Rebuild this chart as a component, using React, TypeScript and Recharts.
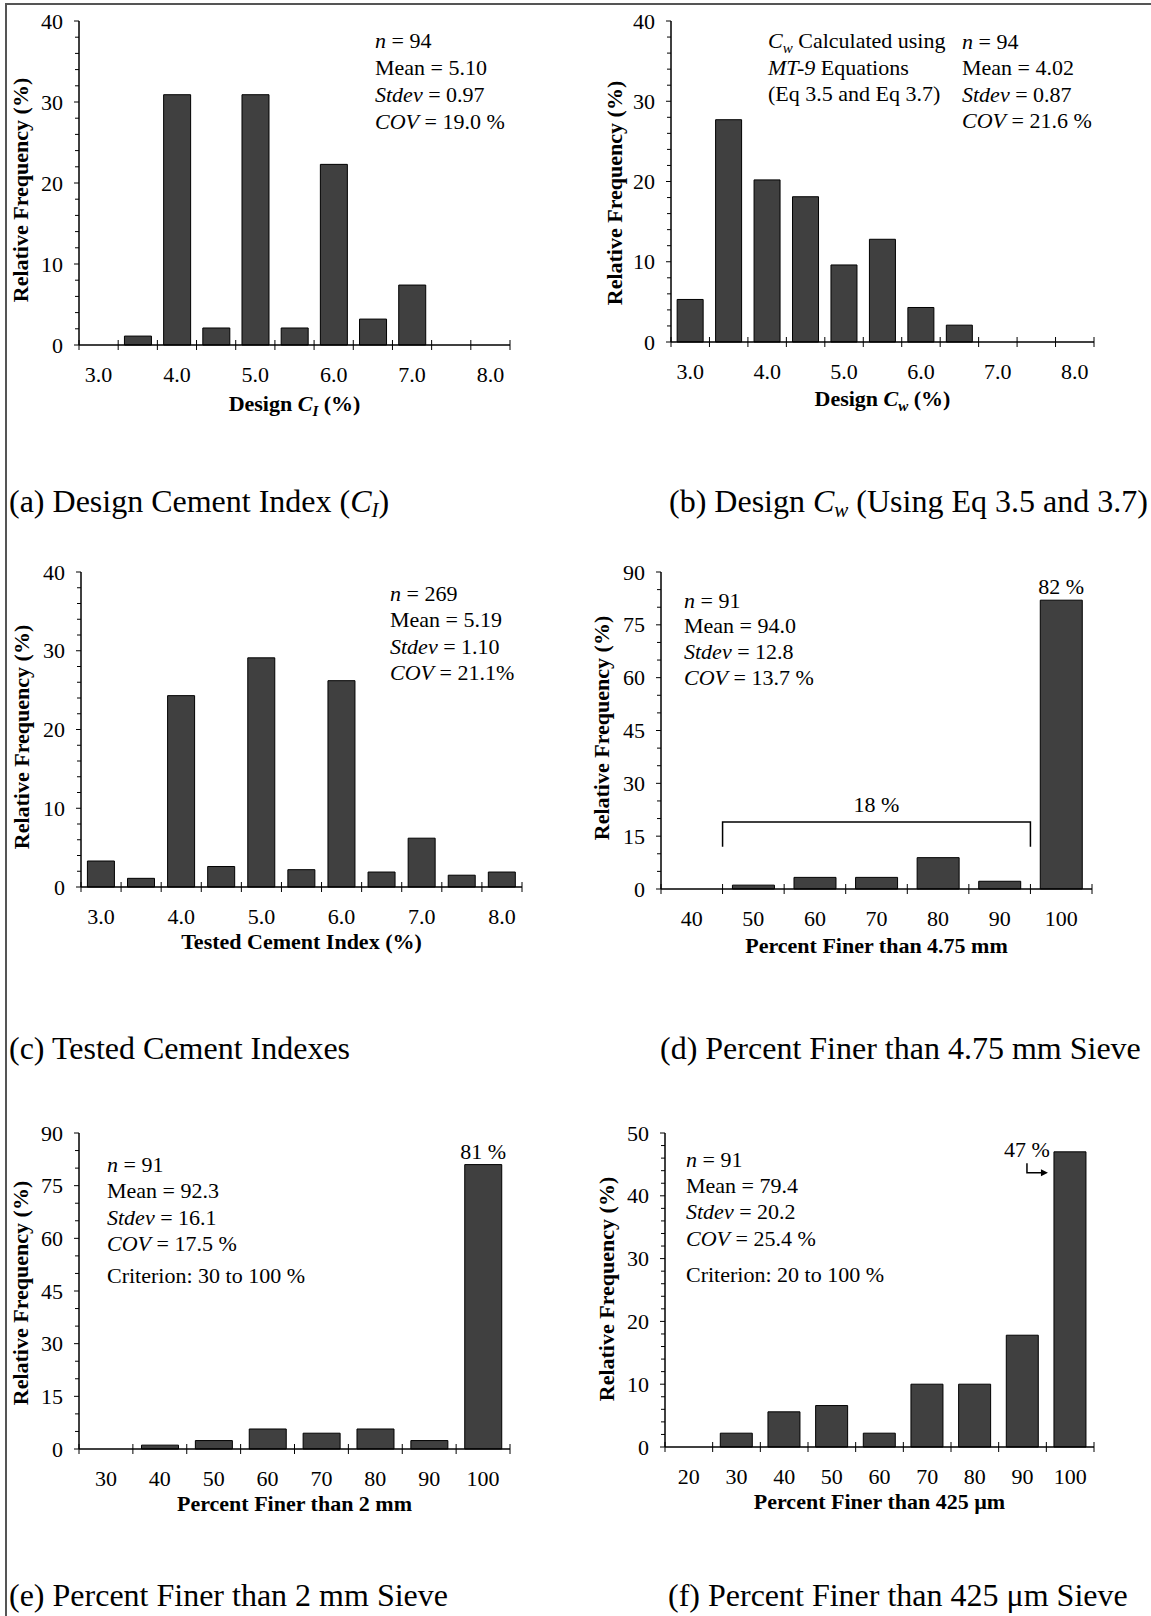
import React from "react";
import { Bar, BarChart, LabelList, ReferenceArea, XAxis, YAxis } from "recharts";

const SERIF = '"Liberation Serif", "Times New Roman", serif';
const BAR_FILL = "#404040";
const FRAME = "#8c8c8c";

// cement content bins (%), shared by the first three histograms
const cementBins = ["3.0", "3.5", "4.0", "4.5", "5.0", "5.5", "6.0", "6.5", "7.0", "7.5", "8.0"];
const cementTickLabels = ["3.0", "4.0", "5.0", "6.0", "7.0", "8.0"];
const designCiFreq = [0, 1.1, 30.9, 2.1, 30.9, 2.1, 22.3, 3.2, 7.4, 0, 0];
const designCwFreq = [5.3, 27.7, 20.2, 18.1, 9.6, 12.8, 4.3, 2.1, 0, 0, 0];
const testedCiFreq = [3.3, 1.1, 24.3, 2.6, 29.1, 2.2, 26.2, 1.9, 6.2, 1.5, 1.9];

// gradation bins (percent finer)
const finer475Bins = ["40", "50", "60", "70", "80", "90", "100"];
const finer475Freq = [0, 1.1, 3.3, 3.3, 8.9, 2.2, 82];
const finer2Bins = ["30", "40", "50", "60", "70", "80", "90", "100"];
const finer2Freq = [0, 1.1, 2.4, 5.7, 4.5, 5.7, 2.4, 81];
const finer425Bins = ["20", "30", "40", "50", "60", "70", "80", "90", "100"];
const finer425Freq = [0, 2.2, 5.6, 6.6, 2.2, 10.0, 10.0, 17.8, 47];

// summary statistics: n, mean, stdev, COV
const designCiStats = ["94", "5.10", "0.97", "19.0 %"];
const designCwStats = ["94", "4.02", "0.87", "21.6 %"];
const testedCiStats = ["269", "5.19", "1.10", "21.1%"];
const finer475Stats = ["91", "94.0", "12.8", "13.7 %"];
const finer2Stats = ["91", "92.3", "16.1", "17.5 %"];
const finer425Stats = ["91", "79.4", "20.2", "25.4 %"];

// bracket around the bins below 100 % passing (frequency units)
const bracketLow = 12;
const bracketHigh = 19;

type Rect = { x0: number; y0: number; x1: number; y1: number };

const rectA: Rect = { x0: 79, y0: 21, x1: 510, y1: 345 };
const rectB: Rect = { x0: 671, y0: 21, x1: 1094, y1: 342 };
const rectC: Rect = { x0: 81, y0: 572, x1: 522, y1: 887 };
const rectD: Rect = { x0: 661, y0: 572, x1: 1092, y1: 889 };
const rectE: Rect = { x0: 79, y0: 1133, x1: 510, y1: 1449 };
const rectF: Rect = { x0: 665, y0: 1133, x1: 1094, y1: 1447 };

const PAD_TOP = 20;

const tickValues = (max: number, step: number) =>
  Array.from({ length: Math.round(max / step) + 1 }, (_, i) => i * step);

function BinTick(props: any) {
  const { x, y, payload, index, step, shown, lastIndex } = props;
  const edge = x - step / 2;
  return (
    <g>
      <line x1={edge} x2={edge} y1={y - 5} y2={y + 5} stroke="#000" strokeWidth={1} />
      {index === lastIndex && (
        <line x1={x + step / 2} x2={x + step / 2} y1={y - 5} y2={y + 5} stroke="#000" strokeWidth={1} />
      )}
      {shown.includes(payload.value) && (
        <text x={x} y={y + 37} textAnchor="middle" fontFamily={SERIF} fontSize={22} fill="#000">
          {payload.value}
        </text>
      )}
    </g>
  );
}

function FreqTick(props: any) {
  const { x, y, payload, major } = props;
  const isMajor = payload.value % major === 0;
  return (
    <g>
      <line x1={x - (isMajor ? 5 : 4)} x2={x} y1={y} y2={y} stroke="#000" strokeWidth={1} />
      {isMajor && (
        <text x={x - 16} y={y + 7.5} textAnchor="end" fontFamily={SERIF} fontSize={22} fill="#000">
          {payload.value}
        </text>
      )}
    </g>
  );
}

function TopTag(props: any) {
  if (props.value == null) return null;
  const vb = props.viewBox ?? props;
  return (
    <text x={vb.x + vb.width / 2} y={vb.y - 6} textAnchor="middle" fontFamily={SERIF} fontSize={22} fill="#000">
      {props.value}
    </text>
  );
}

function ArrowTag(props: any) {
  if (props.value == null) return null;
  const vb = props.viewBox ?? props;
  const { x, y } = vb;
  const lx = x - 27;
  return (
    <g>
      <text x={lx} y={y + 5} textAnchor="middle" fontFamily={SERIF} fontSize={22} fill="#000">
        {props.value}
      </text>
      <polyline
        points={`${lx},${y + 11.5} ${lx},${y + 21} ${x - 12},${y + 21}`}
        fill="none"
        stroke="#000"
        strokeWidth={1.5}
      />
      <polygon points={`${x - 6},${y + 21} ${x - 13},${y + 17.5} ${x - 13},${y + 24.5}`} fill="#000" />
    </g>
  );
}

function Bracket(props: any) {
  const { x, y, width, height, label } = props;
  return (
    <g>
      <path
        d={`M${x},${y + height} V${y} H${x + width} V${y + height}`}
        fill="none"
        stroke="#000"
        strokeWidth={1.5}
      />
      <text x={x + width / 2} y={y - 10} textAnchor="middle" fontFamily={SERIF} fontSize={22} fill="#000">
        {label}
      </text>
    </g>
  );
}

type HistProps = {
  bins: string[];
  freq: number[];
  shown: string[];
  yMax: number;
  major: number;
  minor: number;
  rect: Rect;
  tagged?: string[];
  tag?: (p: any) => React.ReactElement | null;
  children?: React.ReactNode;
};

function Histogram({ bins, freq, shown, yMax, major, minor, rect, tagged = [], tag, children }: HistProps) {
  const data = bins.map((bin, i) => ({
    bin,
    freq: freq[i],
    tag: tagged.includes(bin) ? `${freq[i]} %` : undefined,
  }));
  const plotW = rect.x1 - rect.x0;
  const plotH = rect.y1 - rect.y0;
  const step = plotW / bins.length;
  return (
    <div style={{ position: "absolute", left: rect.x0 - 60, top: rect.y0 - PAD_TOP }}>
      <BarChart
        width={plotW + 70}
        height={plotH + PAD_TOP + 60}
        data={data}
        margin={{ top: PAD_TOP, right: 10, bottom: 0, left: 0 }}
        barCategoryGap="16%"
      >
        <XAxis
          dataKey="bin"
          height={60}
          interval={0}
          tickSize={0}
          tickMargin={0}
          tickLine={false}
          axisLine={{ stroke: "#000", strokeWidth: 1.5 }}
          tick={(p: any) => <BinTick {...p} step={step} shown={shown} lastIndex={bins.length - 1} />}
        />
        <XAxis
          xAxisId="frame"
          orientation="top"
          dataKey="bin"
          height={0}
          tick={false}
          tickLine={false}
          axisLine={{ stroke: FRAME, strokeWidth: 1.2 }}
        />
        <YAxis
          type="number"
          width={60}
          domain={[0, yMax]}
          ticks={tickValues(yMax, minor)}
          interval={0}
          tickSize={0}
          tickMargin={0}
          tickLine={false}
          axisLine={{ stroke: "#000", strokeWidth: 1.5 }}
          tick={(p: any) => <FreqTick {...p} major={major} />}
        />
        <YAxis
          yAxisId="frame"
          orientation="right"
          type="number"
          width={0}
          domain={[0, yMax]}
          tick={false}
          tickLine={false}
          axisLine={{ stroke: FRAME, strokeWidth: 1.2 }}
        />
        <Bar dataKey="freq" fill={BAR_FILL} stroke="#000" strokeWidth={1} isAnimationActive={false}>
          {tagged.length > 0 && <LabelList dataKey="tag" content={tag ?? TopTag} />}
        </Bar>
        {children}
      </BarChart>
    </div>
  );
}

const statNames = [
  { name: "n", italic: true },
  { name: "Mean", italic: false },
  { name: "Stdev", italic: true },
  { name: "COV", italic: true },
];

function StatBlock({
  x,
  y,
  step,
  values,
  criterion,
  criterionY,
}: {
  x: number;
  y: number;
  step: number;
  values: string[];
  criterion?: string;
  criterionY?: number;
}) {
  return (
    <g fontFamily={SERIF} fontSize={22} fill="#000">
      {values.map((v, i) => (
        <text key={i} x={x} y={y + i * step}>
          <tspan fontStyle={statNames[i].italic ? "italic" : "normal"}>{statNames[i].name}</tspan>
          {" = " + v}
        </text>
      ))}
      {criterion && (
        <text x={x} y={criterionY}>
          {"Criterion: " + criterion}
        </text>
      )}
    </g>
  );
}

function YTitle({ x, y }: { x: number; y: number }) {
  return (
    <text
      x={x}
      y={y}
      transform={`rotate(-90, ${x}, ${y})`}
      textAnchor="middle"
      fontFamily={SERIF}
      fontSize={22}
      fontWeight="bold"
      fill="#000"
    >
      Relative Frequency (%)
    </text>
  );
}

function XTitle({ rect, y, children }: { rect: Rect; y: number; children: React.ReactNode }) {
  return (
    <text
      x={(rect.x0 + rect.x1) / 2}
      y={y}
      textAnchor="middle"
      fontFamily={SERIF}
      fontSize={22}
      fontWeight="bold"
      fill="#000"
    >
      {children}
    </text>
  );
}

function Caption({ x, y, children }: { x: number; y: number; children: React.ReactNode }) {
  return (
    <text x={x} y={y} fontFamily={SERIF} fontSize={32} fill="#000">
      {children}
    </text>
  );
}

export default function App() {
  const last475 = finer475Freq[finer475Freq.length - 1];
  return (
    <div
      style={{
        position: "absolute",
        left: 0,
        top: 0,
        width: 1151,
        height: 1616,
        background: "#fff",
        overflow: "hidden",
      }}
    >
      <Histogram bins={cementBins} freq={designCiFreq} shown={cementTickLabels} yMax={40} major={10} minor={2} rect={rectA} />
      <Histogram bins={cementBins} freq={designCwFreq} shown={cementTickLabels} yMax={40} major={10} minor={2} rect={rectB} />
      <Histogram bins={cementBins} freq={testedCiFreq} shown={cementTickLabels} yMax={40} major={10} minor={2} rect={rectC} />
      <Histogram
        bins={finer475Bins}
        freq={finer475Freq}
        shown={finer475Bins}
        yMax={90}
        major={15}
        minor={5}
        rect={rectD}
        tagged={["100"]}
      >
        <ReferenceArea
          x1="50"
          x2="90"
          y1={bracketLow}
          y2={bracketHigh}
          shape={(p: any) => <Bracket {...p} label={`${100 - last475} %`} />}
        />
      </Histogram>
      <Histogram
        bins={finer2Bins}
        freq={finer2Freq}
        shown={finer2Bins}
        yMax={90}
        major={15}
        minor={5}
        rect={rectE}
        tagged={["100"]}
      />
      <Histogram
        bins={finer425Bins}
        freq={finer425Freq}
        shown={finer425Bins}
        yMax={50}
        major={10}
        minor={2}
        rect={rectF}
        tagged={["100"]}
        tag={ArrowTag}
      />

      <svg
        width={1151}
        height={1616}
        style={{ position: "absolute", left: 0, top: 0, pointerEvents: "none" }}
      >
        {/* figure border */}
        <line x1={6} x2={1151} y1={4} y2={4} stroke="#555" strokeWidth={2} />
        <line x1={6} x2={6} y1={3} y2={1616} stroke="#555" strokeWidth={2} />

        <YTitle x={28} y={190} />
        <YTitle x={622} y={193} />
        <YTitle x={29} y={737} />
        <YTitle x={609} y={728} />
        <YTitle x={27.5} y={1293} />
        <YTitle x={614} y={1289} />

        <XTitle rect={rectA} y={410.5}>
          Design{" "}
          <tspan fontStyle="italic">C</tspan>
          <tspan fontStyle="italic" fontSize={15} dy={5}>
            I
          </tspan>
          <tspan dy={-5}> (%)</tspan>
        </XTitle>
        <XTitle rect={rectB} y={406}>
          Design{" "}
          <tspan fontStyle="italic">C</tspan>
          <tspan fontStyle="italic" fontSize={15} dy={5}>
            w
          </tspan>
          <tspan dy={-5}> (%)</tspan>
        </XTitle>
        <XTitle rect={rectC} y={949}>
          Tested Cement Index (%)
        </XTitle>
        <XTitle rect={rectD} y={953}>
          Percent Finer than 4.75 mm
        </XTitle>
        <XTitle rect={rectE} y={1511}>
          Percent Finer than 2 mm
        </XTitle>
        <XTitle rect={rectF} y={1509}>
          Percent Finer than 425 µm
        </XTitle>

        <StatBlock x={375} y={48} step={27} values={designCiStats} />
        <StatBlock x={962} y={49} step={26.4} values={designCwStats} />
        <g fontFamily={SERIF} fontSize={22} fill="#000">
          <text x={768} y={47.5}>
            <tspan fontStyle="italic">C</tspan>
            <tspan fontStyle="italic" fontSize={15} dy={5}>
              w
            </tspan>
            <tspan dy={-5}> Calculated using</tspan>
          </text>
          <text x={768} y={74.5}>
            <tspan fontStyle="italic">MT-9</tspan> Equations
          </text>
          <text x={768} y={100.5}>
            (Eq 3.5 and Eq 3.7)
          </text>
        </g>
        <StatBlock x={390} y={600.5} step={26.5} values={testedCiStats} />
        <StatBlock x={684} y={607.5} step={25.8} values={finer475Stats} />
        <StatBlock x={107} y={1171.5} step={26.5} values={finer2Stats} criterion="30 to 100 %" criterionY={1283} />
        <StatBlock x={686} y={1167} step={26.2} values={finer425Stats} criterion="20 to 100 %" criterionY={1282} />

        <Caption x={9} y={512}>
          (a) Design Cement Index (<tspan fontStyle="italic">C</tspan>
          <tspan fontStyle="italic" fontSize={21} dy={5}>
            I
          </tspan>
          <tspan dy={-5}>)</tspan>
        </Caption>
        <Caption x={669} y={512}>
          (b) Design <tspan fontStyle="italic">C</tspan>
          <tspan fontStyle="italic" fontSize={21} dy={5}>
            w
          </tspan>
          <tspan dy={-5}> (Using Eq 3.5 and 3.7)</tspan>
        </Caption>
        <Caption x={9} y={1059}>
          (c) Tested Cement Indexes
        </Caption>
        <Caption x={660} y={1059}>
          (d) Percent Finer than 4.75 mm Sieve
        </Caption>
        <Caption x={9} y={1606}>
          (e) Percent Finer than 2 mm Sieve
        </Caption>
        <Caption x={668} y={1606}>
          (f) Percent Finer than 425 μm Sieve
        </Caption>
      </svg>
    </div>
  );
}
